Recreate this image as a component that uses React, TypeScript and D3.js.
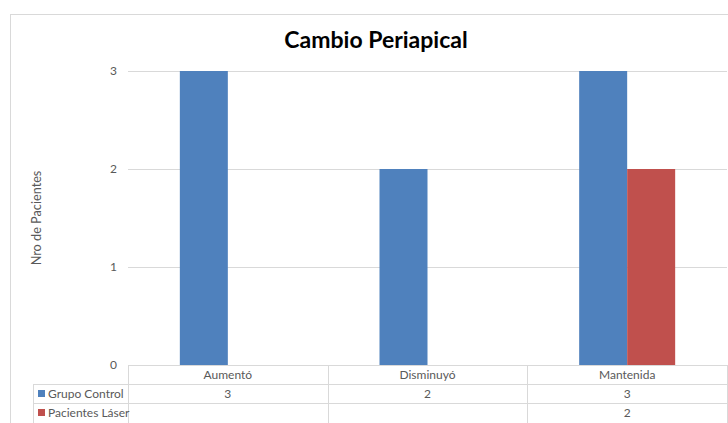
import React from "react";
import * as d3 from "d3";

const categories = ["Aumentó", "Disminuyó", "Mantenida"];
const seriesNames = ["Grupo Control", "Pacientes Láser"];
const grupoControl: (number | null)[] = [3, 2, 3];
const pacientesLaser: (number | null)[] = [null, null, 2];
const yTicks = [0, 1, 2, 3];
const colors = ["#4f81bd", "#c0504d"];

const W = 728;
const H = 423;
const FONT = "Lato, 'Open Sans', sans-serif";

export default function App() {
  const series = [grupoControl, pacientesLaser];
  const x0 = d3.scaleBand<string>().domain(categories).range([128, 727]).paddingInner(0).paddingOuter(0);
  const inner = d3.scaleBand<number>().domain([0, 1]).range([0, 96]);
  const y = d3.scaleLinear().domain([0, 3]).range([365, 71]);
  const rowTop = 365;
  const rowH = 19;
  const grid = "#d9d9d9";
  const txt = "#595959";

  return (
    <svg width={W} height={H} style={{ position: "absolute", left: 0, top: 0 }}>
      <rect x={0} y={0} width={W} height={H} fill="#fff" />
      <rect x={10.5} y={14.5} width={W + 10} height={H + 10} fill="none" stroke="#d9d9d9" strokeWidth={1} />
      <text x={376} y={48} textAnchor="middle" fontFamily={FONT} fontWeight={700} fontSize={23} fill="#000">
        Cambio Periapical
      </text>
      {yTicks.map((t) => (
        <g key={t}>
          {t > 0 && (
            <line x1={128} x2={727} y1={y(t) + 0.5} y2={y(t) + 0.5} stroke={grid} strokeWidth={1} />
          )}
          <text x={117} y={y(t) + 4} textAnchor="end" fontFamily={FONT} fontSize={12} fill={txt}>
            {t}
          </text>
        </g>
      ))}
      <text
        transform={`translate(41,218) rotate(-90)`}
        textAnchor="middle"
        fontFamily={FONT}
        fontSize={12.7}
        fill={txt}
      >
        Nro de Pacientes
      </text>
      {categories.map((c, i) => {
        const cx = (x0(c) as number) + x0.bandwidth() / 2;
        return series.map((s, k) => {
          const v = s[i];
          if (v == null) return null;
          const bx = cx - 48 + (inner(k) as number);
          return (
            <rect key={c + k} x={bx} y={y(v)} width={inner.bandwidth()} height={y(0) - y(v)} fill={colors[k]} />
          );
        });
      })}
      {/* data table */}
      <line x1={128} x2={727} y1={rowTop + 0.5} y2={rowTop + 0.5} stroke={grid} />
      <line x1={33} x2={727} y1={rowTop + rowH + 0.5} y2={rowTop + rowH + 0.5} stroke={grid} />
      <line x1={33} x2={727} y1={rowTop + 2 * rowH + 0.5} y2={rowTop + 2 * rowH + 0.5} stroke={grid} />
      <line x1={33.5} x2={33.5} y1={rowTop + rowH} y2={H} stroke={grid} />
      {[...categories.map((c) => x0(c) as number), 727].map((xv, i) => (
        <line key={i} x1={Math.round(xv) + 0.5} x2={Math.round(xv) + 0.5} y1={rowTop} y2={H} stroke={grid} />
      ))}
      {categories.map((c) => (
        <text
          key={c}
          x={(x0(c) as number) + x0.bandwidth() / 2}
          y={rowTop + 14}
          textAnchor="middle"
          fontFamily={FONT}
          fontSize={12}
          fill={txt}
        >
          {c}
        </text>
      ))}
      {series.map((s, k) => (
        <g key={k}>
          <rect x={38} y={rowTop + rowH * (k + 1) + 6} width={7} height={7} fill={colors[k]} />
          <text x={48} y={rowTop + rowH * (k + 1) + 14} fontFamily={FONT} fontSize={12} fill={txt}>
            {seriesNames[k]}
          </text>
          {categories.map((c, i) =>
            s[i] == null ? null : (
              <text
                key={c}
                x={(x0(c) as number) + x0.bandwidth() / 2}
                y={rowTop + rowH * (k + 1) + 14}
                textAnchor="middle"
                fontFamily={FONT}
                fontSize={12}
                fill={txt}
              >
                {s[i]}
              </text>
            )
          )}
        </g>
      ))}
    </svg>
  );
}
